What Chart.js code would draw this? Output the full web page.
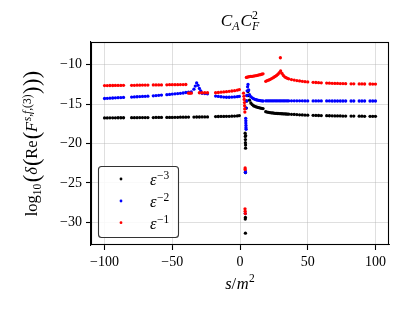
<!DOCTYPE html>
<html>
<head>
<meta charset="utf-8">
<script src="https://cdn.jsdelivr.net/npm/chart.js@4.4.1/dist/chart.umd.min.js"></script>
<style>
  html, body { margin: 0; padding: 0; background: #fff; }
  #c { display: block; }
</style>
</head>
<body>
<canvas id="c" width="410" height="313"></canvas>
<script>
// ---- tick labels ----
const xTicks = [-100, -50, 0, 50, 100];
const yTicks = [-30, -25, -20, -15, -10];
const seriesExponents = ['\u22123', '\u22122', '\u22121'];

// ---- left body (shared x) ----
const xLeft = [-100,-98,-96,-94,-92,-90,-88,-86,-80,-78,-76,-74,-72,-70,-68,-64,-62,-60,-58,-54,-52,-50,-48,-46,-44,-42,-40];
const blackLeft = [-16.75,-16.75,-16.74,-16.74,-16.74,-16.73,-16.73,-16.73,-16.72,-16.72,-16.72,-16.71,-16.71,-16.71,-16.70,-16.70,-16.69,-16.69,-16.69,-16.68,-16.68,-16.68,-16.67,-16.67,-16.66,-16.66,-16.65];
const blueLeft = [-14.28,-14.26,-14.24,-14.22,-14.20,-14.18,-14.16,-14.14,-14.10,-14.08,-14.06,-14.04,-14.02,-14.00,-13.98,-13.94,-13.91,-13.88,-13.85,-13.79,-13.76,-13.72,-13.69,-13.66,-13.62,-13.58,-13.52];
const redLeft = [-12.64,-12.64,-12.63,-12.63,-12.62,-12.62,-12.62,-12.61,-12.60,-12.60,-12.59,-12.59,-12.58,-12.58,-12.57,-12.56,-12.56,-12.55,-12.55,-12.54,-12.53,-12.53,-12.52,-12.52,-12.51,-12.51,-12.50];

// ---- bump region near -30 ----
const xBumpBlack = [-38,-34,-32,-30,-28,-26,-24];
const blackBump = [-16.64,-16.64,-16.63,-16.63,-16.62,-16.62,-16.62];
const xBumpBlue = [-38,-36,-34,-33,-32,-31,-30,-29,-28,-26,-24];
const blueBump = [-13.48,-13.45,-13.1,-12.7,-12.3,-12.6,-13.0,-13.3,-13.62,-13.66,-13.68];
const xBumpRed = [-38,-37,-36,-30,-28,-26,-24];
const redBump = [-13.6,-13.6,-13.6,-13.55,-13.55,-13.55,-13.55];

// ---- segment before the spike ----
const xMid = [-18,-16,-14,-12,-10,-8,-6,-4,-2,-0.5];
const blackMid = [-16.58,-16.57,-16.56,-16.56,-16.55,-16.54,-16.53,-16.52,-16.50,-16.45];
const blueMid = [-13.97,-14.02,-14.06,-14.10,-14.12,-14.12,-14.10,-14.08,-14.05,-14.00];
const redMid = [-13.55,-13.52,-13.48,-13.45,-13.41,-13.37,-13.33,-13.28,-13.22,-13.15];

// ---- spike near s/m^2 = 4 ----
const xSpikeBlack = [3.8,3.9,4.0,4.0,4.1,4.1,4.2,4.0,4.0,3.9,4.0,4.6,5.0,5.4,5.9,6.4];
const blackSpike = [-18.7,-19.1,-19.5,-19.9,-20.2,-20.6,-19.0,-23.7,-29.4,-29.6,-31.4,-15.5,-14.6,-13.9,-13.4,-13.9];
const xSpikeBlue = [4.2,4.3,4.3,4.4,4.4,4.5,4.0,4.0,3.9,4.6,4.8,5.0,5.3,5.6,5.9,6.4];
const blueSpike = [-16.8,-17.1,-17.4,-17.7,-18.0,-18.2,-23.5,-23.7,-28.9,-15.5,-14.6,-13.9,-13.3,-12.8,-12.5,-13.2];
const xSpikeRed = [2.6,2.9,3.1,3.3,3.4,3.5,3.6,3.8,3.8,3.7,3.8,3.9,4.7,5.4,6.2,29.8];
const redSpike = [-13.6,-14.0,-14.4,-14.8,-15.2,-15.6,-16.0,-23.1,-23.3,-28.3,-28.6,-28.9,-11.6,-11.56,-11.52,-9.1];

// ---- right body (shared x) ----
const xRight = [7,8,9,10,11,12,13,14,15,16,17,19,20,21,22,23,24,25,26,27,28,29,30,31,32,33,34,35,36,38,40,42,44,46,48,50,54,56,58,60,64,66,68,70,72,74,76,78,82,84,88,90,92,96,98,100];
const blackRight = [-14.5,-14.85,-15.05,-15.2,-15.28,-15.35,-15.4,-15.45,-15.5,-15.53,-15.56,
  -15.96,-16.0,-16.04,-16.07,-16.1,-16.12,-16.14,-16.16,-16.18,-16.19,-16.2,-16.21,-16.22,-16.23,-16.24,-16.25,-16.26,-16.27,
  -16.29,-16.31,-16.33,-16.35,-16.37,-16.39,-16.4,
  -16.42,-16.43,-16.44,-16.45,
  -16.46,-16.47,-16.48,-16.49,-16.5,-16.5,-16.51,-16.51,
  -16.52,-16.52,
  -16.53,-16.53,-16.54,
  -16.54,-16.55,-16.55];
const blueRight = [-13.8,-14.05,-14.2,-14.3,-14.38,-14.44,-14.49,-14.53,-14.56,-14.58,-14.6,
  -14.58,-14.58,-14.58,-14.58,-14.58,-14.58,-14.58,-14.58,-14.58,-14.58,-14.58,-14.58,-14.58,-14.58,-14.58,-14.58,-14.58,-14.58,
  -14.58,-14.58,-14.58,-14.58,-14.58,-14.59,-14.59,
  -14.59,-14.59,-14.59,-14.59,
  -14.59,-14.59,-14.6,-14.6,-14.6,-14.6,-14.6,-14.6,
  -14.6,-14.6,
  -14.6,-14.6,-14.6,
  -14.6,-14.6,-14.6];
const redRight = [-11.5,-11.48,-11.46,-11.43,-11.4,-11.37,-11.33,-11.29,-11.25,-11.2,-11.15,
  -12.1,-12.02,-11.95,-11.87,-11.78,-11.68,-11.58,-11.47,-11.35,-11.2,-11.0,-10.78,-11.1,-11.35,-11.52,-11.63,-11.72,-11.78,
  -11.87,-11.94,-12.0,-12.05,-12.1,-12.14,-12.17,
  -12.23,-12.25,-12.27,-12.29,
  -12.32,-12.33,-12.35,-12.36,-12.37,-12.38,-12.39,-12.4,
  -12.41,-12.42,
  -12.43,-12.43,-12.44,
  -12.44,-12.45,-12.45];

function pts(xs, ys) { return xs.map((x, i) => ({ x: x, y: ys[i] })); }

const blackData = [].concat(pts(xLeft, blackLeft), pts(xBumpBlack, blackBump), pts(xMid, blackMid), pts(xSpikeBlack, blackSpike), pts(xRight, blackRight));
const blueData = [].concat(pts(xLeft, blueLeft), pts(xBumpBlue, blueBump), pts(xMid, blueMid), pts(xSpikeBlue, blueSpike), pts(xRight, blueRight));
const redData = [].concat(pts(xLeft, redLeft), pts(xBumpRed, redBump), pts(xMid, redMid), pts(xSpikeRed, redSpike), pts(xRight, redRight));

const COLORS = ['#000000', '#0000ff', '#ff0000'];
const SERIF = '"Liberation Serif", "DejaVu Serif", serif';
const BASE = 16.5;

function fmt(v) { return String(v).replace('-', '\u2212'); }

// draw a sequence of runs with sub/superscripts
function drawRuns(ctx, runs, x, y, align) {
  let cursor = 0, prevStart = 0;
  const laid = runs.map(r => {
    const size = BASE * (r.s || 1);
    const font = (r.it ? 'italic ' : '') + size.toFixed(1) + 'px ' + SERIF;
    ctx.font = font;
    const w = ctx.measureText(r.t).width + (r.pad || 0);
    let rx;
    if (r.stack) { rx = prevStart; cursor = Math.max(cursor, rx + w); }
    else { rx = cursor + (r.pre || 0); prevStart = rx; cursor = rx + w; }
    return { r: r, font: font, rx: rx };
  });
  const total = cursor;
  const start = align === 'center' ? x - total / 2 : x;
  ctx.textAlign = 'left';
  ctx.textBaseline = 'alphabetic';
  ctx.fillStyle = '#000';
  laid.forEach(l => {
    ctx.font = l.font;
    ctx.fillText(l.r.t, start + l.rx, y + (l.r.dy || 0));
  });
}

const decorPlugin = {
  id: 'decor',
  afterDraw(chart) {
    const ctx = chart.ctx;
    const a = chart.chartArea;
    ctx.save();
    // full frame
    ctx.strokeStyle = '#000';
    ctx.lineWidth = 1.1;
    ctx.strokeRect(Math.round(a.left) + 0.5, Math.round(a.top) + 0.5, Math.round(a.right - a.left) - 1, Math.round(a.bottom - a.top) - 1);

    // title
    drawRuns(ctx, [
      { t: 'C', it: true, s: 1.05 },
      { t: 'A', it: true, s: 0.72, dy: 3.5 },
      { t: 'C', it: true, s: 1.05, pre: 1 },
      { t: 'F', it: true, s: 0.72, dy: 3.5 },
      { t: '2', s: 0.72, dy: -7, stack: true }
    ], (a.left + a.right) / 2, 26, 'center');

    // x label
    drawRuns(ctx, [
      { t: 's', it: true },
      { t: '/', pad: 0.5 },
      { t: 'm', it: true },
      { t: '2', s: 0.7, dy: -7, pre: 0.5 }
    ], (a.left + a.right) / 2, 289, 'center');

    // y label (rotated)
    ctx.save();
    ctx.translate(37, (a.top + a.bottom) / 2);
    ctx.rotate(-Math.PI / 2);
    const P = 1.35;
    drawRuns(ctx, [
      { t: 'log' },
      { t: '10', s: 0.7, dy: 3.5 },
      { t: '(', s: P, dy: 1.5, pre: 1.5 },
      { t: '\u03b4', it: true },
      { t: '(', s: P, dy: 1.5, pre: 1 },
      { t: 'Re' },
      { t: '(', s: P, dy: 1.5, pre: 1 },
      { t: 'F', it: true },
      { t: 's', it: true, s: 0.7, dy: -6.5, pre: 0.5 },
      { t: ',', s: 0.7, dy: -6.5 },
      { t: 'f', it: true, s: 0.7, dy: -6.5 },
      { t: ',(3)', s: 0.7, dy: -6.5, pad: 0.5 },
      { t: ')', s: P, dy: 1.5 },
      { t: ')', s: P, dy: 1.5, pre: 0.5 },
      { t: ')', s: P, dy: 1.5, pre: 0.5 }
    ], 0, 0, 'center');
    ctx.restore();

    // legend
    const bx = 98.5, by = 166.5, bw = 80, bh = 71, rad = 3;
    ctx.beginPath();
    ctx.moveTo(bx + rad, by);
    ctx.lineTo(bx + bw - rad, by);
    ctx.arcTo(bx + bw, by, bx + bw, by + rad, rad);
    ctx.lineTo(bx + bw, by + bh - rad);
    ctx.arcTo(bx + bw, by + bh, bx + bw - rad, by + bh, rad);
    ctx.lineTo(bx + rad, by + bh);
    ctx.arcTo(bx, by + bh, bx, by + bh - rad, rad);
    ctx.lineTo(bx, by + rad);
    ctx.arcTo(bx, by, bx + rad, by, rad);
    ctx.closePath();
    ctx.fillStyle = 'rgba(255,255,255,0.85)';
    ctx.fill();
    ctx.strokeStyle = '#333';
    ctx.lineWidth = 1.1;
    ctx.stroke();
    const rowsY = [179, 201, 222.7];
    chart.data.datasets.forEach((ds, i) => {
      ctx.beginPath();
      ctx.arc(121, rowsY[i], 1.4, 0, Math.PI * 2);
      ctx.fillStyle = COLORS[i];
      ctx.fill();
      drawRuns(ctx, [
        { t: '\u03b5', it: true },
        { t: seriesExponents[i], s: 0.7, dy: -6, pre: 0.5 }
      ], 150, rowsY[i] + 6, 'left');
    });
    ctx.restore();
  }
};

function axisCommon(ticksArr, fixedSize, isX) {
  return {
    type: 'linear',
    bounds: 'data',
    afterBuildTicks: (scale) => { scale.ticks = ticksArr.map(v => ({ value: v })); },
    afterFit: (scale) => { if (isX) scale.height = fixedSize; else scale.width = fixedSize; },
    grid: {
      display: true,
      drawOnChartArea: true,
      color: 'rgba(176,176,176,0.5)',
      lineWidth: 0.8,
      tickColor: '#000',
      tickLength: 5,
      tickWidth: 1.1
    },
    border: { display: true, color: '#000', width: 1.1 },
    ticks: {
      color: '#000',
      font: { family: SERIF, size: 14 },
      padding: 4,
      maxRotation: 0,
      autoSkip: false,
      callback: (v) => fmt(v)
    }
  };
}

const xScale = axisCommon(xTicks, 68, true);
xScale.min = -110; xScale.max = 110; xScale.position = 'bottom';
const yScale = axisCommon(yTicks, 91, false);
yScale.min = -32.9; yScale.max = -7.1; yScale.position = 'left';

new Chart(document.getElementById('c'), {
  type: 'scatter',
  data: {
    datasets: [
      { label: '\u03b5\u22123', data: blackData, backgroundColor: COLORS[0], borderColor: COLORS[0], pointRadius: 1.65, pointBorderWidth: 0, order: 3 },
      { label: '\u03b5\u22122', data: blueData, backgroundColor: COLORS[1], borderColor: COLORS[1], pointRadius: 1.65, pointBorderWidth: 0, order: 2 },
      { label: '\u03b5\u22121', data: redData, backgroundColor: COLORS[2], borderColor: COLORS[2], pointRadius: 1.65, pointBorderWidth: 0, order: 1 }
    ]
  },
  options: {
    responsive: false,
    devicePixelRatio: 1,
    animation: false,
    layout: { padding: { left: 0, right: 21, top: 42, bottom: 0 } },
    plugins: { legend: { display: false }, tooltip: { enabled: false }, title: { display: false } },
    scales: { x: xScale, y: yScale }
  },
  plugins: [decorPlugin]
});
</script>
</body>
</html>
